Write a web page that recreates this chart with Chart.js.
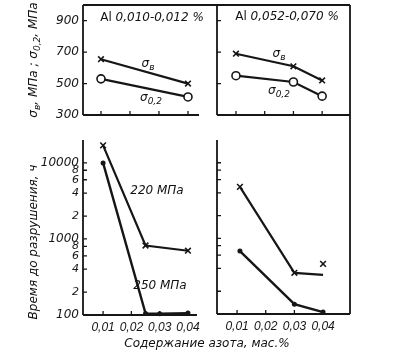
<!DOCTYPE html>
<html>
<head>
<meta charset="utf-8">
<script src="https://cdn.jsdelivr.net/npm/chart.js@4.4.1/dist/chart.umd.min.js"></script>
<style>
  html, body { margin: 0; padding: 0; background: #fff; }
  #page { position: relative; width: 413px; height: 352px; overflow: hidden;
          font-family: "DejaVu Sans", sans-serif; color: #111; }
  #page canvas { position: absolute; }
  .lbl { position: absolute; white-space: nowrap; font-style: italic; font-size: 12px;
         line-height: 1; transform: translate(-50%, -50%); }
  .rot { transform: translate(-50%, -50%) rotate(-90deg); }
  .lbl sub { font-size: 9px; vertical-align: -3px; line-height: 0; }
  .up { font-style: normal; }
</style>
</head>
<body>
<div id="page">
  <canvas id="cTL" width="217" height="125" style="left:0;top:0"></canvas>
  <canvas id="cTR" width="160" height="125" style="left:200px;top:0"></canvas>
  <canvas id="cBL" width="217" height="227" style="left:0;top:125px"></canvas>
  <canvas id="cBR" width="160" height="227" style="left:200px;top:125px"></canvas>

  <div class="lbl rot" style="left:33px;top:60px">σ<sub>в</sub>, МПа ; σ<sub>0,2</sub>, МПа</div>
  <div class="lbl rot" style="left:33px;top:242px">Время до разрушения, ч</div>
  <div class="lbl" style="left:207px;top:343px">Содержание азота, мас.%</div>

  <div class="lbl" style="left:152px;top:17px"><span class="up">Al</span> 0,010-0,012 %</div>
  <div class="lbl" style="left:287px;top:16px"><span class="up">Al</span> 0,052-0,070 %</div>

  <div class="lbl" style="left:148px;top:63px">σ<sub>в</sub></div>
  <div class="lbl" style="left:151px;top:97px">σ<sub>0,2</sub></div>
  <div class="lbl" style="left:279px;top:53px">σ<sub>в</sub></div>
  <div class="lbl" style="left:279px;top:90px">σ<sub>0,2</sub></div>

  <div class="lbl" style="left:157px;top:190px">220 МПа</div>
  <div class="lbl" style="left:160px;top:285px">250 МПа</div>
</div>

<script>
// nitrogen content ticks (shared by all four panels)
const xTicks = [0.01, 0.02, 0.03, 0.04];
const xTickLabels = ['0,01', '0,02', '0,03', '0,04'];

// strength axis (top panels)
const strengthTicks = [300, 500, 700, 900];
const strengthTickLabels = ['300', '500', '700', '900'];

// time to failure axis (bottom panels, log)
const timeTicks = [100, 200, 400, 600, 800, 1000, 2000, 4000, 6000, 8000, 10000];
const timeTickLabels = ['100', '2', '4', '6', '8', '1000', '2', '4', '6', '8', '10000'];

// Al 0,010-0,012 %
const tlNitrogen = [0.01, 0.04];
const tlSigmaB = [655, 500];
const tlSigma02 = [530, 415];

// Al 0,052-0,070 %
const trNitrogen = [0.01, 0.03, 0.04];
const trSigmaB = [690, 610, 520];
const trSigma02 = [550, 510, 420];

// time to failure, Al 0,010-0,012 %
const bl220Nitrogen = [0.01, 0.025, 0.04];
const bl220 = [17000, 820, 700];
const bl250Nitrogen = [0.01, 0.025, 0.03, 0.04];
const bl250 = [10000, 105, 104, 106];

// time to failure, Al 0,052-0,070 %
const br220Nitrogen = [0.011, 0.03, 0.04];
const br220 = [4800, 350, 330];
const br220LoneNitrogen = [0.04];
const br220Lone = [460];
const br250Nitrogen = [0.011, 0.03, 0.04];
const br250 = [680, 135, 106];

const ink = '#161616';
const tickFont = { family: 'DejaVu Sans', size: 12, style: 'italic' };
const xTickFont = { family: 'Liberation Sans', size: 12, style: 'italic' };

function pts(xs, ys) {
  return xs.map((x, i) => ({ x: x, y: ys[i] }));
}

function crossSet(xs, ys, extra) {
  return Object.assign({
    data: pts(xs, ys), showLine: true, borderColor: ink, borderWidth: 2.2,
    pointStyle: 'crossRot', pointRadius: 4, pointBorderWidth: 1.6, clip: false
  }, extra || {});
}
function circleSet(xs, ys) {
  return {
    data: pts(xs, ys), showLine: true, borderColor: ink, borderWidth: 2.2,
    pointStyle: 'circle', pointRadius: 4, pointBackgroundColor: '#fff',
    pointBorderWidth: 1.6, clip: false
  };
}
function dotSet(xs, ys) {
  return {
    data: pts(xs, ys), showLine: true, borderColor: ink, borderWidth: 2.4,
    pointStyle: 'circle', pointRadius: 2.5, pointBackgroundColor: ink,
    pointBorderWidth: 0, clip: false
  };
}

// axis lines, frame and inward tick marks
const frame = {
  id: 'frame',
  beforeDatasetsDraw(chart, args, opts) {
    const { ctx, chartArea: a, scales } = chart;
    ctx.save();
    ctx.strokeStyle = ink;
    ctx.lineWidth = 1.8;
    ctx.beginPath();
    opts.sides.forEach(s => {
      if (s === 'left') { ctx.moveTo(a.left, a.top); ctx.lineTo(a.left, a.bottom); }
      if (s === 'bottom') { ctx.moveTo(a.left, a.bottom); ctx.lineTo(a.right, a.bottom); }
      if (s === 'top') { ctx.moveTo(a.left, a.top); ctx.lineTo(a.right, a.top); }
      if (s === 'topExt') { ctx.moveTo(a.left, a.top); ctx.lineTo(chart.width, a.top); }
      if (s === 'rightDown') { ctx.moveTo(a.right, a.top); ctx.lineTo(a.right, chart.height); }
      if (s === 'rightUp') { ctx.moveTo(a.right, 0); ctx.lineTo(a.right, a.bottom); }
    });
    ctx.stroke();

    ctx.lineWidth = 1.3;
    ctx.beginPath();
    scales.x.ticks.forEach(t => {
      const px = scales.x.getPixelForValue(t.value);
      ctx.moveTo(px, a.bottom); ctx.lineTo(px, a.bottom - 4);
    });
    scales.y.ticks.forEach((t, i) => {
      if (i === 0) return;
      const py = scales.y.getPixelForValue(t.value);
      ctx.moveTo(a.left, py); ctx.lineTo(a.left + 4, py);
    });
    ctx.stroke();
    ctx.restore();
  }
};

function zeroPad(s) {
  s.paddingTop = 0; s.paddingBottom = 0; s.paddingLeft = 0; s.paddingRight = 0;
}

function makeChart(id, o) {
  return new Chart(document.getElementById(id), {
    type: 'scatter',
    data: { datasets: o.datasets },
    options: {
      responsive: false,
      animation: false,
      events: [],
      layout: { padding: o.padding, autoPadding: false },
      plugins: { legend: { display: false }, tooltip: { enabled: false }, frame: { sides: o.sides } },
      scales: {
        x: {
          type: 'linear', min: o.xMin, max: o.xMax,
          grid: { display: false, drawTicks: false }, border: { display: false },
          afterBuildTicks: s => { s.ticks = xTicks.map(v => ({ value: v })); },
          afterFit: s => { s.height = o.xH; zeroPad(s); },
          ticks: {
            display: o.xLabels, autoSkip: false, maxRotation: 0, padding: 5,
            color: ink, font: xTickFont, callback: (v, i) => xTickLabels[i]
          }
        },
        y: {
          type: o.log ? 'logarithmic' : 'linear', min: o.yMin, max: o.yMax,
          grid: { display: false, drawTicks: false }, border: { display: false },
          afterBuildTicks: s => { s.ticks = o.yTicks.map(v => ({ value: v })); },
          afterFit: s => { s.width = o.yW; zeroPad(s); },
          ticks: {
            display: o.yLabels, autoSkip: false, padding: 4, color: ink,
            font: ctx => (o.log && ctx.index % 5 !== 0)
              ? { family: 'DejaVu Sans', size: 11, style: 'italic' } : tickFont,
            callback: (v, i) => o.yTickLabels[i]
          }
        }
      }
    },
    plugins: [frame]
  });
}

// top left: strength, low Al
makeChart('cTL', {
  datasets: [crossSet(tlNitrogen, tlSigmaB), circleSet(tlNitrogen, tlSigma02)],
  padding: { left: 0, top: 5, right: 18, bottom: 10 },
  xMin: 0.0038, xMax: 0.0438, xH: 0, xLabels: false,
  yMin: 300, yMax: 1000, yTicks: strengthTicks, yTickLabels: strengthTickLabels,
  yW: 83, yLabels: true, sides: ['left', 'bottom', 'topExt']
});

// top right: strength, high Al
makeChart('cTR', {
  datasets: [crossSet(trNitrogen, trSigmaB), circleSet(trNitrogen, trSigma02)],
  padding: { left: 0, top: 5, right: 10, bottom: 10 },
  xMin: 0.0034, xMax: 0.0497, xH: 0, xLabels: false,
  yMin: 300, yMax: 1000, yTicks: strengthTicks, yTickLabels: strengthTickLabels,
  yW: 17, yLabels: false, sides: ['left', 'bottom', 'top', 'rightDown']
});

// bottom left: time to failure, low Al
makeChart('cBL', {
  datasets: [crossSet(bl220Nitrogen, bl220), dotSet(bl250Nitrogen, bl250)],
  padding: { left: 0, top: 15, right: 20, bottom: 17 },
  xMin: 0.0029, xMax: 0.0432, xH: 20, xLabels: true,
  log: true, yMin: 100, yMax: 20000, yTicks: timeTicks, yTickLabels: timeTickLabels,
  yW: 83, yLabels: true, sides: ['left', 'bottom']
});

// bottom right: time to failure, high Al
makeChart('cBR', {
  datasets: [
    crossSet(br220Nitrogen, br220, { pointRadius: [4, 4, 0] }),
    crossSet(br220LoneNitrogen, br220Lone, { showLine: false }),
    dotSet(br250Nitrogen, br250)
  ],
  padding: { left: 0, top: 15, right: 10, bottom: 18 },
  xMin: 0.0030, xMax: 0.0494, xH: 20, xLabels: true,
  log: true, yMin: 100, yMax: 20000, yTicks: timeTicks, yTickLabels: timeTickLabels,
  yW: 17, yLabels: false, sides: ['left', 'bottom', 'rightUp']
});
</script>
</body>
</html>
